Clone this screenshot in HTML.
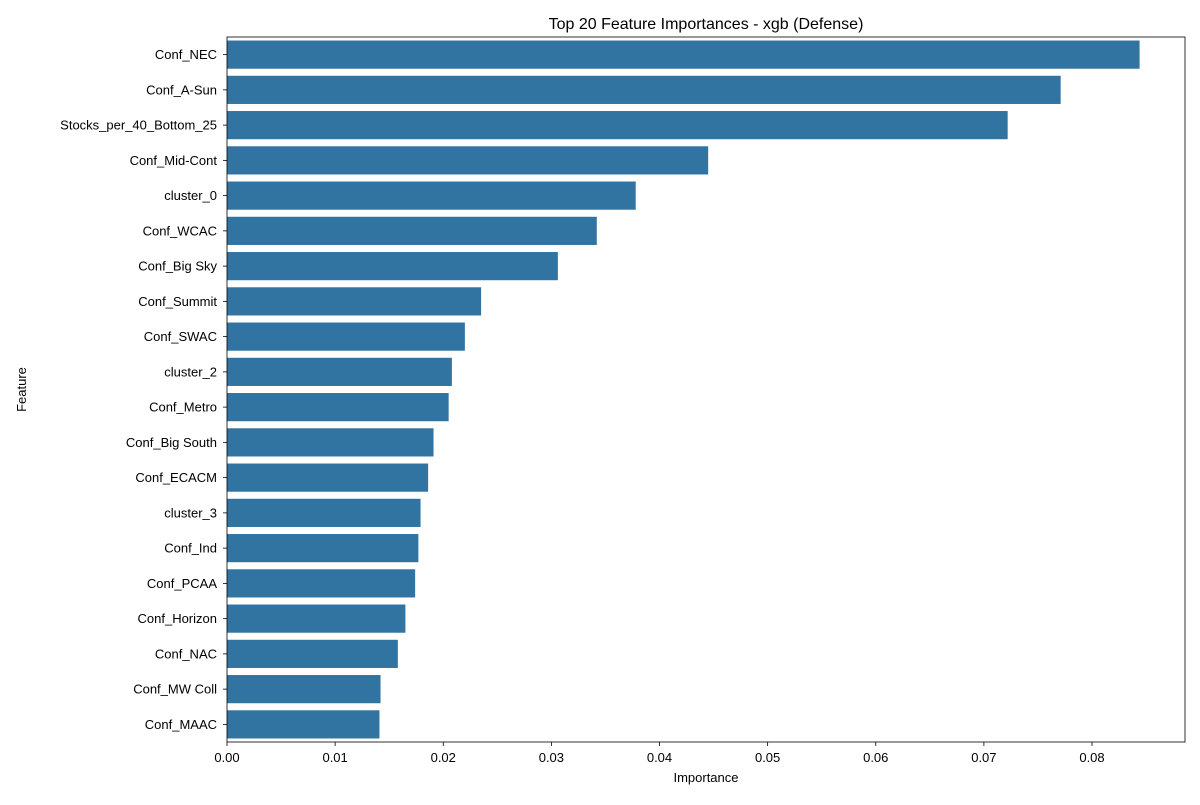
<!DOCTYPE html>
<html><head><meta charset="utf-8"><style>
body{margin:0;background:#fff;font-family:"Liberation Sans","DejaVu Sans",sans-serif;}
</style></head><body>
<svg id="chart" width="1200" height="800" xmlns="http://www.w3.org/2000/svg"></svg>
<script>
const features=["Conf_NEC","Conf_A-Sun","Stocks_per_40_Bottom_25","Conf_Mid-Cont","cluster_0","Conf_WCAC","Conf_Big Sky","Conf_Summit","Conf_SWAC","cluster_2","Conf_Metro","Conf_Big South","Conf_ECACM","cluster_3","Conf_Ind","Conf_PCAA","Conf_Horizon","Conf_NAC","Conf_MW Coll","Conf_MAAC"];
const importances=[0.0844,0.0771,0.0722,0.0445,0.0378,0.0342,0.0306,0.0235,0.0220,0.0208,0.0205,0.0191,0.0186,0.0179,0.0177,0.0174,0.0165,0.0158,0.0142,0.0141];
const xTicks=[0,0.01,0.02,0.03,0.04,0.05,0.06,0.07,0.08];
const xTickLabels=["0.00","0.01","0.02","0.03","0.04","0.05","0.06","0.07","0.08"];
const L=227,R=1185,T=37,B=742,xMax=0.0886;
const svg=document.getElementById('chart');
const NS="http://www.w3.org/2000/svg";
const x=v=>L+v/xMax*(R-L);
const band=(B-T)/features.length;
const y=i=>T+i*band;
function mk(tag,attrs,text){const e=document.createElementNS(NS,tag);for(const k in attrs)e.setAttribute(k,attrs[k]);if(text!==undefined)e.textContent=text;svg.appendChild(e);return e;}
features.forEach((f,i)=>{
  const r=mk('rect',{x:L,y:y(i)+band*0.1,width:x(importances[i])-L,height:band*0.8,fill:'#3274a1'});
  
  
  const c=y(i)+band/2;
  mk('line',{x1:L-4,x2:L,y1:c,y2:c,stroke:'#000','stroke-width':0.8});
  const t=mk('text',{x:L-10,y:c+4.5,'text-anchor':'end','font-size':13,fill:'#000'},f);
  
  
});
xTicks.forEach((v,i)=>{
  mk('line',{x1:x(v),x2:x(v),y1:B,y2:B+4,stroke:'#000','stroke-width':0.8});
  const t=mk('text',{x:x(v),y:B+20,'text-anchor':'middle','font-size':13,fill:'#000'},xTickLabels[i]);
  
  
});
const fr=mk('rect',{x:L,y:T,width:R-L,height:B-T,fill:'none',stroke:'#000','stroke-width':0.8});


const ti=mk('text',{x:(L+R)/2,y:T-8,'text-anchor':'middle','font-size':16,fill:'#000'},'Top 20 Feature Importances - xgb (Defense)');


const xt=mk('text',{x:(L+R)/2,y:782,'text-anchor':'middle','font-size':13,fill:'#000'},'Importance');


const yt=mk('text',{x:26,y:(T+B)/2,'text-anchor':'middle','font-size':13,fill:'#000',transform:'rotate(-90 26 '+((T+B)/2)+')'},'Feature');


</script>
</body></html>
